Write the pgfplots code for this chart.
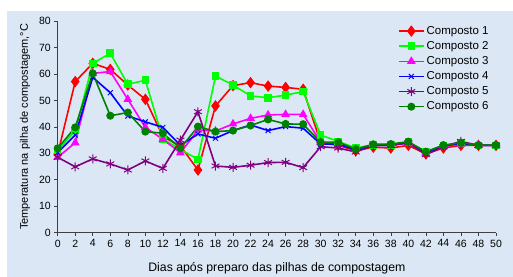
\documentclass[border=0pt]{standalone}
\usepackage{pgfplots}
\pgfplotsset{compat=1.18}
\usepackage{fontspec}
\setmainfont{Liberation Sans}
\definecolor{bgblue}{RGB}{219,231,245}
\definecolor{cred}{RGB}{255,0,0}
\definecolor{clime}{RGB}{0,255,0}
\definecolor{cmag}{RGB}{255,0,255}
\definecolor{cblue}{RGB}{0,0,255}
\definecolor{cpurp}{RGB}{128,0,128}
\definecolor{cdgreen}{RGB}{0,128,0}
\begin{document}
\begin{tikzpicture}
\useasboundingbox (-57.7bp,-44.3bp) rectangle (455.3bp,232.7bp);
\fill[bgblue] (-50.7bp,-44.3bp) rectangle (455.3bp,221.7bp);
\begin{axis}[
  at={(0,0)}, anchor=origin,
  scale only axis, width=438.3bp, height=211.7bp,
  xmin=0, xmax=50, ymin=0, ymax=80,
  axis x line=bottom, axis y line=left,
  axis line style={-, black!75, line width=0.8pt},
  xtick={0,2,...,50}, ytick={0,10,...,80},
  tick align=outside, tick style={black!75, line width=0.6pt},
  major tick length=3.5bp,
  tick label style={font=\fontsize{10.5bp}{12bp}\selectfont},
  /pgf/number format/assume math mode=true,
  xlabel={Dias após preparo das pilhas de compostagem},
  ylabel={Temperatura na pilha de compostagem,°C},
  xlabel style={font=\fontsize{12.3bp}{14bp}\selectfont, at={(axis description cs:0.5,-0.167)}, anchor=center},
  ylabel style={font=\fontsize{11bp}{13bp}\selectfont, at={(axis description cs:-0.0746,0.5)}, anchor=center},
  legend style={at={(axis description cs:0.776,0.985)}, anchor=north west,
    draw=none, fill=none, font=\fontsize{11.5bp}{13bp}\selectfont,
    row sep=1.6bp, inner sep=0pt},
  legend cell align=left,
  legend image code/.code={\draw[mark repeat=2,mark phase=2] plot coordinates {(0bp,0bp)(12.5bp,0bp)(25bp,0bp)};},
  every axis plot/.append style={line width=1.6pt},
]
\addplot[cred, mark=diamond*, mark size=4.5bp, mark options={solid}] coordinates {
(0,29.7)(2,57.1)(4,64.0)(6,61.7)(8,55.8)(10,50.4)(12,36.3)(14,32.8)(16,23.7)(18,47.9)
(20,55.6)(22,56.7)(24,55.4)(26,54.9)(28,54.2)(30,34.0)(32,33.0)(34,31.0)(36,32.3)(38,32.0)
(40,33.0)(42,29.8)(44,32.0)(46,33.0)(48,33.0)(50,33.0)};
\addlegendentry{Composto 1}
\addplot[clime, mark=square*, mark size=3bp] coordinates {
(0,31.0)(2,38.6)(4,64.0)(6,67.8)(8,56.1)(10,57.6)(12,35.4)(14,31.5)(16,27.7)(18,59.2)
(20,55.8)(22,51.7)(24,51.0)(26,52.0)(28,53.3)(30,36.9)(32,34.5)(34,32.0)(36,33.2)(38,33.2)
(40,34.2)(42,30.5)(44,33.0)(46,33.8)(48,33.0)(50,33.0)};
\addlegendentry{Composto 2}
\addplot[cmag, mark=triangle*, mark size=3.5bp] coordinates {
(0,28.5)(2,34.0)(4,60.2)(6,60.9)(8,50.4)(10,39.8)(12,35.3)(14,30.2)(16,38.8)(18,38.4)
(20,41.1)(22,43.2)(24,44.5)(26,44.7)(28,44.7)(30,34.2)(32,33.5)(34,31.5)(36,33.0)(38,33.0)
(40,34.0)(42,30.0)(44,32.5)(46,33.5)(48,33.0)(50,33.0)};
\addlegendentry{Composto 3}
\addplot[cblue, mark=x, mark size=3.5bp, mark options={line width=1pt}] coordinates {
(0,30.3)(2,36.9)(4,58.7)(6,52.9)(8,44.1)(10,41.9)(12,39.8)(14,33.0)(16,37.3)(18,35.7)
(20,38.6)(22,40.7)(24,38.6)(26,40.1)(28,39.5)(30,33.5)(32,33.5)(34,31.3)(36,33.0)(38,33.0)
(40,34.0)(42,30.2)(44,32.8)(46,33.8)(48,33.0)(50,33.0)};
\addlegendentry{Composto 4}
\addplot[cpurp, mark=asterisk, mark size=4.5bp, mark options={line width=1pt}] coordinates {
(0,28.5)(2,24.9)(4,27.9)(6,26.0)(8,23.7)(10,27.1)(12,24.3)(14,35.0)(16,45.7)(18,25.2)
(20,24.7)(22,25.5)(24,26.5)(26,26.6)(28,24.6)(30,32.5)(32,32.0)(34,30.5)(36,33.0)(38,33.0)
(40,34.0)(42,29.5)(44,32.5)(46,34.5)(48,33.0)(50,33.0)};
\addlegendentry{Composto 5}
\addplot[cdgreen, mark=*, mark size=3.2bp] coordinates {
(0,31.9)(2,39.8)(4,60.2)(6,44.2)(8,45.4)(10,38.2)(12,37.6)(14,31.9)(16,40.1)(18,38.2)
(20,38.6)(22,40.5)(24,42.8)(26,41.1)(28,41.0)(30,34.2)(32,34.2)(34,31.6)(36,33.4)(38,33.5)
(40,34.4)(42,30.6)(44,33.1)(46,34.0)(48,33.1)(50,33.1)};
\addlegendentry{Composto 6}
\end{axis}
\end{tikzpicture}
\end{document}
